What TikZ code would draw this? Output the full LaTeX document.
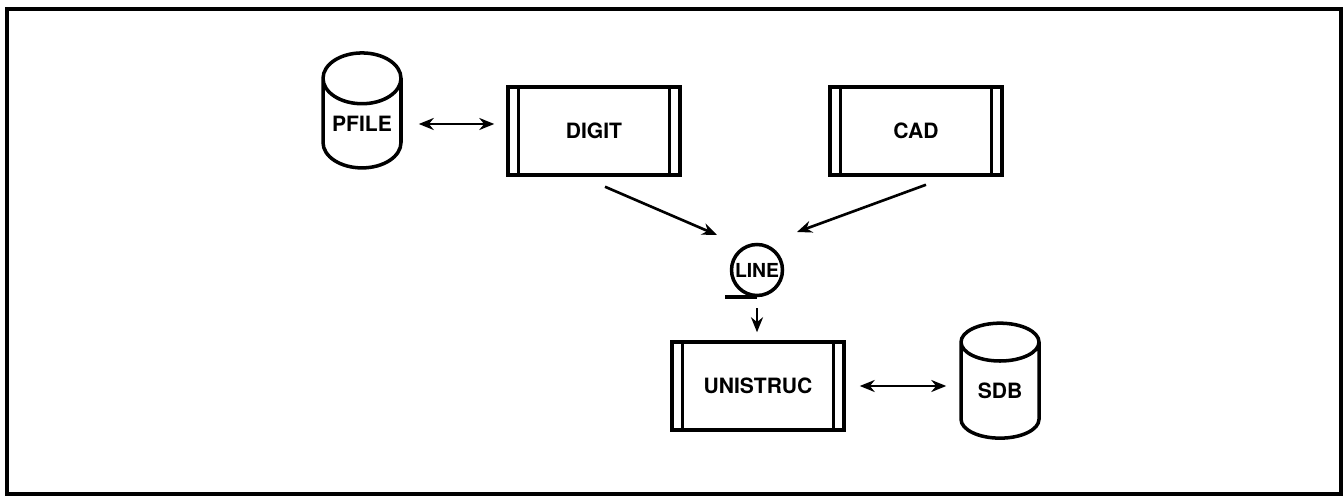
\documentclass[tikz,border=0pt]{standalone}
\usepackage{fontspec}
\setsansfont{TeX Gyre Heros}
\usetikzlibrary{shapes.geometric,arrows.meta}

\tikzset{
  prog/.style={draw, line width=2pt, minimum width=3.44cm, minimum height=1.76cm,
    font=\sffamily\bfseries\fontsize{12}{14}\selectfont,
    path picture={
      \draw[line width=1.6pt] ([xshift=0.21cm]path picture bounding box.south west) -- ([xshift=0.21cm]path picture bounding box.north west);
      \draw[line width=1.6pt] ([xshift=-0.21cm]path picture bounding box.south east) -- ([xshift=-0.21cm]path picture bounding box.north east);
    }},
  store/.style={cylinder, shape border rotate=90, aspect=0.85, draw, line width=2pt,
    minimum width=1.56cm, minimum height=2.3cm, inner sep=0pt,
    font=\sffamily\bfseries\fontsize{12}{14}\selectfont},
  tape/.style={circle, draw, line width=2pt, minimum size=1.02cm, inner sep=0pt,
    font=\sffamily\bfseries\fontsize{11}{13}\selectfont},
  arr/.style={line width=1.5pt, -{Stealth[length=0.3cm, width=0.24cm]}},
  dblarr/.style={line width=1.5pt, {Stealth[length=0.3cm, width=0.24cm]}-{Stealth[length=0.3cm, width=0.24cm]}}
}

\begin{document}
\begin{tikzpicture}[x=0.02cm, y=-0.02cm]
  \useasboundingbox (0,0) rectangle (1344,496);
  \draw[line width=1.8pt] (7,9) rectangle (1341,494);

  % programs
  \foreach \name/\txt/\x/\y in {digit/DIGIT/594/131, cad/CAD/916/131, unistruc/UNISTRUC/758/386}{
    \node[prog] (\name) at (\x,\y) {\txt};
  }

  % files
  \node[store] (pfile) at (362,124) {PFILE};
  \node[store] (sdb) at (1000,391) {SDB};

  \node[tape] (line) at (757,270) {LINE};
  \coordinate (tail) at (725,296);
  \draw[line width=2pt] (line.south) -- (line.south -| tail);

  \draw[dblarr, shorten <=0.32cm, shorten >=0.24cm] (pfile.east) -- (pfile.east -| digit.west);
  \draw[arr] ([shift={(11,10)}]digit.south) -- ([shift={(-40,-35)}]line.center);
  \draw[arr] ([shift={(10,8)}]cad.south) -- ([shift={(40,-38)}]line.center);
  \draw[arr, shorten <=0.22cm, shorten >=0.16cm] (line.south) -- (line.south |- unistruc.north);
  \draw[dblarr, shorten <=0.28cm, shorten >=0.26cm] (unistruc.east) -- (unistruc.east -| sdb.west);
\end{tikzpicture}
\end{document}
